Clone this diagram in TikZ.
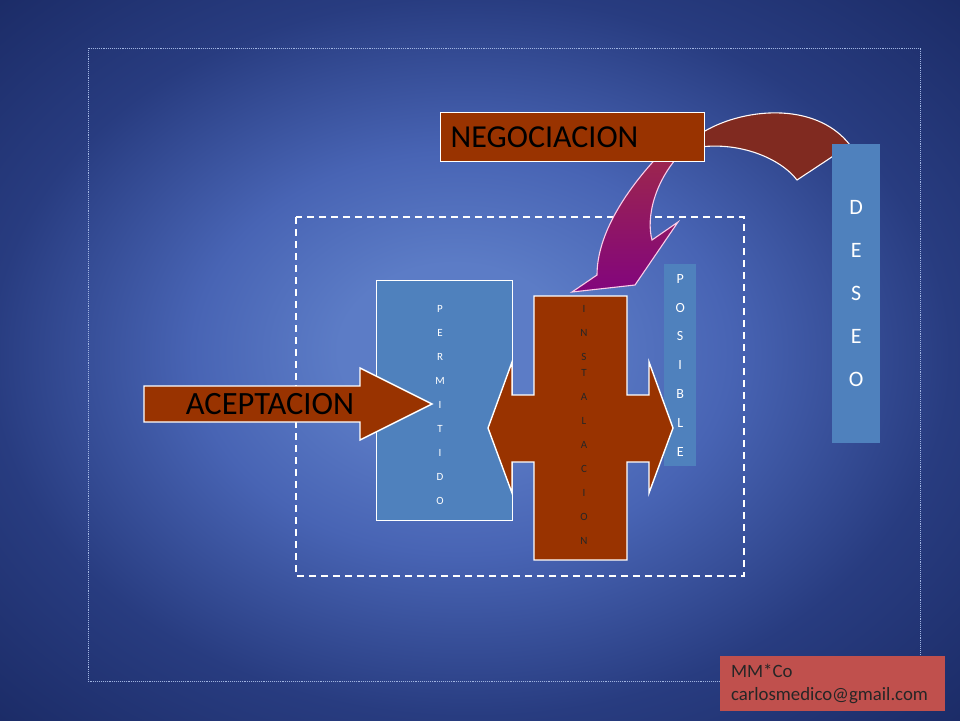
\documentclass[tikz,border=0pt]{standalone}
\usepackage{fontspec}
\setmainfont{Carlito}
\definecolor{bgin}{RGB}{92,124,198}
\definecolor{bgmid}{RGB}{72,100,180}
\definecolor{bgedge}{RGB}{40,60,128}
\definecolor{bgout}{RGB}{27,43,102}
\definecolor{brownfill}{RGB}{153,51,0}
\definecolor{boxblue}{RGB}{79,129,189}
\definecolor{mmred}{RGB}{192,80,77}
\definecolor{darkarrow}{RGB}{128,42,32}
\definecolor{purtop}{RGB}{158,40,75}
\definecolor{purbot}{RGB}{130,5,125}
\definecolor{framedot}{RGB}{160,180,225}
\pgfdeclareradialshading{bgshade}{\pgfpoint{-1.6bp}{0.8bp}}{color(0bp)=(bgin); color(6bp)=(bgin); color(14bp)=(bgmid); color(25bp)=(bgedge); color(36bp)=(bgout)}
\tikzset{
  brownshape/.style={fill=brownfill, draw=white, line width=1.4pt, line join=miter},
  bluebox/.style={fill=boxblue, draw=none, inner sep=0pt},
  letters/.style={align=center, inner sep=0pt},
}
\begin{document}
\begin{tikzpicture}[x=1pt,y=-1pt]
\useasboundingbox (0,0) rectangle (960,720);
\shade[shading=bgshade] (0,0) rectangle (960,720);
% outer dotted frame
\draw[framedot, densely dotted, line width=0.9pt] (88,48) rectangle (920,681);
% inner dashed frame
\draw[white, dash pattern=on 7pt off 5pt, line width=1.1pt] (296,217) rectangle (744,576);
% PERMITIDO box
\node[bluebox, draw=white, line width=1.4pt, minimum width=136, minimum height=240, anchor=north west] (perm) at (376,280) {};
\node[letters, text=white, font=\fontsize{11}{24}\selectfont] (permtxt) at (440,405) {P\\E\\R\\M\\I\\T\\I\\D\\O};
% POSIBLE box
\node[bluebox, minimum width=32, minimum height=202, anchor=north west, text=white, align=center, font=\fontsize{14}{28.8}\selectfont] (pos) at (664,264) {P\\O\\S\\I\\B\\L\\E};
% INSTALACION cross
\path[brownshape] (534,296) -- (627,296) -- (627,395) -- (649,395) -- (649,362) -- (673,428) -- (649,493) -- (649,462) -- (627,462) -- (627,560) -- (534,560) -- (534,462) -- (512,462) -- (512,493) -- (488,428) -- (512,362) -- (512,395) -- (534,395) -- cycle;
\node[letters, text=black!85, font=\fontsize{11}{24}\selectfont] (insttxt) at (584,425) {I\\N\\S\\[-8pt]T\\A\\L\\A\\C\\I\\O\\N};
% ACEPTACION arrow
\path[brownshape] (144,386) -- (360,386) -- (360,368) -- (432,404) -- (360,440) -- (360,422) -- (144,422) -- cycle;
\node[inner sep=0pt, text=black, font=\fontsize{32.5}{36}\selectfont] (acep) at (270,404) {ACEPTACION};
% dark red curved arrow (DESEO -> NEGOCIACION)
\path[fill=darkarrow, draw=white!90!pink, line width=1.1pt] (700,134) .. controls (740,108) and (815,100) .. (850,145) -- (797,180) .. controls (780,158) and (740,142) .. (700,147) -- cycle;
% DESEO box
\node[bluebox, minimum width=48, minimum height=299, anchor=north west, text=white, align=center, font=\fontsize{22}{43}\selectfont] (deseo) at (832,144) {D\\E\\S\\E\\O};
% purple curved arrow (NEGOCIACION -> INSTALACION)
\path[top color=purtop, bottom color=purbot, draw=white!80!magenta, line width=1.1pt] (664,150) .. controls (625,190) and (597,235) .. (597,275) -- (572,292) -- (635,285) -- (678,222) -- (652,240) .. controls (646,218) and (654,180) .. (684,150) -- cycle;
% NEGOCIACION box
\node[fill=brownfill, draw=white, line width=1.4pt, minimum width=264, minimum height=49, text width=244, inner xsep=10pt, align=left, anchor=north west, text=black, font=\fontsize{32}{36}\selectfont] (neg) at (440,112) {NEGOCIACION};
% MM*Co box
\node[fill=mmred, draw=none, minimum width=225, minimum height=55, text width=203, inner xsep=11pt, align=left, text=black!85, font=\fontsize{18.8}{23}\selectfont] (mm) at (832.5,683.5) {MM*Co\\carlosmedico@gmail.com};
\end{tikzpicture}
\end{document}
